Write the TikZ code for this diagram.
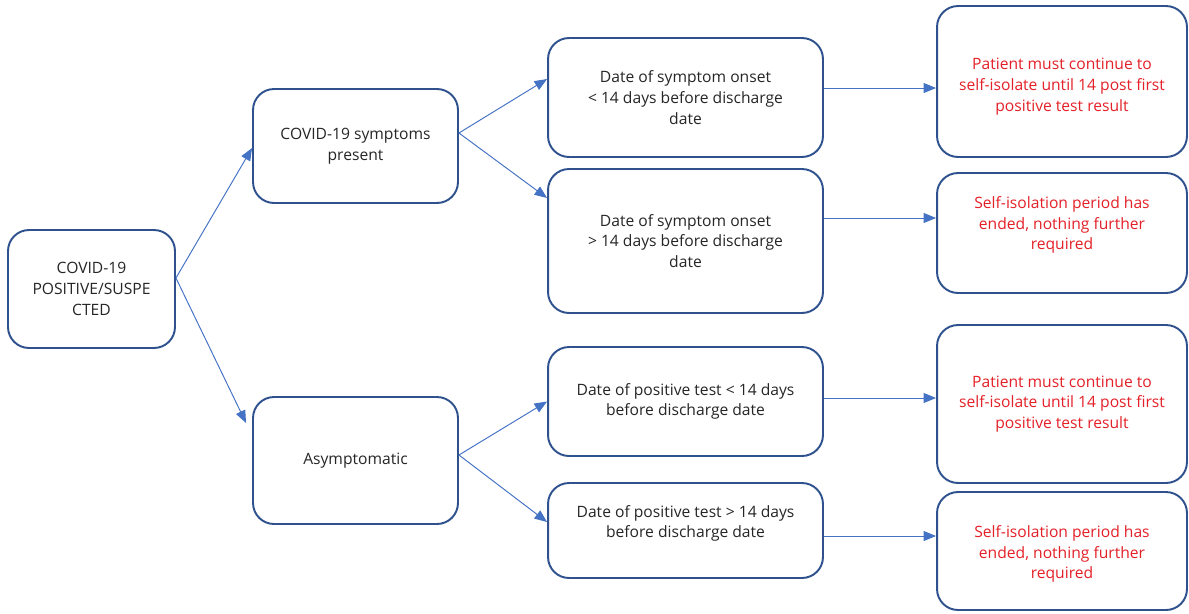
\documentclass[tikz,border=0pt]{standalone}
\usepackage{fontspec}
\setmainfont{Open Sans}
\usetikzlibrary{arrows.meta,calc}
\definecolor{boxline}{HTML}{2F528F}
\definecolor{arrowblue}{HTML}{4472C4}
\definecolor{redtext}{RGB}{228,32,40}
\definecolor{darktext}{HTML}{262626}
\tikzset{
  txt/.style={align=center, inner sep=0pt, text=darktext,
    font=\fontsize{8.9}{11.8}\selectfont},
  redtxt/.style={txt, text=redtext},
  box/.style={txt, draw=boxline, line width=1.1pt, rounded corners=0.42cm, fill=white,
    inner sep=2pt},
  outbox/.style={box, text=redtext},
  conn/.style={draw=arrowblue, line width=0.55pt,
    -{Triangle[length=0.25cm,width=0.2cm]}},
}
\begin{document}
\begin{tikzpicture}[x=0.02cm,y=-0.02cm]
\useasboundingbox (0,0) rectangle (1189,613);
% first column
\node[box, minimum width=3.34cm, minimum height=2.36cm] (A) at (91.5,289)
  {COVID-19\\POSITIVE/SUSPE\\CTED};
% second column
\node[box, minimum width=4.1cm, minimum height=2.28cm] (B) at (355.5,146)
  {COVID-19 symptoms\\present};
\node[box, minimum width=4.1cm, minimum height=2.54cm] (C) at (355.5,460.5)
  {Asymptomatic};
% third column
\node[box, minimum width=5.5cm, minimum height=2.38cm] (D1) at (685.5,97.5)
  {Date of symptom onset\\< 14 days before discharge\\date};
\node[box, minimum width=5.5cm, minimum height=2.88cm] (D2) at (685.5,241)
  {Date of symptom onset\\> 14 days before discharge\\date};
\node[box, minimum width=5.5cm, minimum height=2.18cm] (D3) at (685.5,401.5)
  {Date of positive test < 14 days\\before discharge date};
\node[box, minimum width=5.5cm, minimum height=1.9cm] (D4) at (685.5,530.5) {};
\node[txt] (D4t) at ([yshift=0.14cm]D4.center)
  {Date of positive test > 14 days\\before discharge date};
% fourth column
\node[outbox, minimum width=5.0cm, minimum height=3.02cm] (E1) at (1062,81.5) {};
\node[redtxt] (E1t) at ([yshift=-0.1cm]E1.center)
  {Patient must continue to\\self-isolate until 14 post first\\positive test result};
\node[outbox, minimum width=5.0cm, minimum height=2.4cm] (E2) at (1062,233) {};
\node[redtxt] (E2t) at ([yshift=0.16cm]E2.center)
  {Self-isolation period has\\ended, nothing further\\required};
\node[outbox, minimum width=5.0cm, minimum height=3.16cm] (E3) at (1062,404)
  {Patient must continue to\\self-isolate until 14 post first\\positive test result};
\node[outbox, minimum width=5.0cm, minimum height=2.36cm] (E4) at (1062,551) {};
\node[redtxt] (E4t) at ([yshift=-0.06cm]E4.center)
  {Self-isolation period has\\ended, nothing further\\required};
% connectors
\draw[conn] ([yshift=0.22cm]A.east) -- ([yshift=-0.04cm]B.west);
\draw[conn] ([yshift=0.22cm]A.east) -- ([xshift=-0.12cm,yshift=0.75cm]C.west);
\draw[conn] ([yshift=0.26cm]B.east) -- ([yshift=0.37cm]D1.west);
\draw[conn] ([yshift=0.26cm]B.east) -- ([yshift=0.86cm]D2.west);
\draw[conn] ([yshift=0.11cm]C.east) -- (D3.west);
\draw[conn] ([yshift=0.11cm]C.east) -- ([yshift=0.17cm]D4.west);
\draw[conn] ([yshift=0.19cm]D1.east) -- ([yshift=0.19cm]D1.east -| E1.west);
\draw[conn] ([yshift=0.46cm]D2.east) -- ([yshift=0.46cm]D2.east -| E2.west);
\draw[conn] ([yshift=0.07cm]D3.east) -- ([yshift=0.07cm]D3.east -| E3.west);
\draw[conn] ([yshift=-0.11cm]D4.east) -- ([yshift=-0.11cm]D4.east -| E4.west);
\end{tikzpicture}
\end{document}
